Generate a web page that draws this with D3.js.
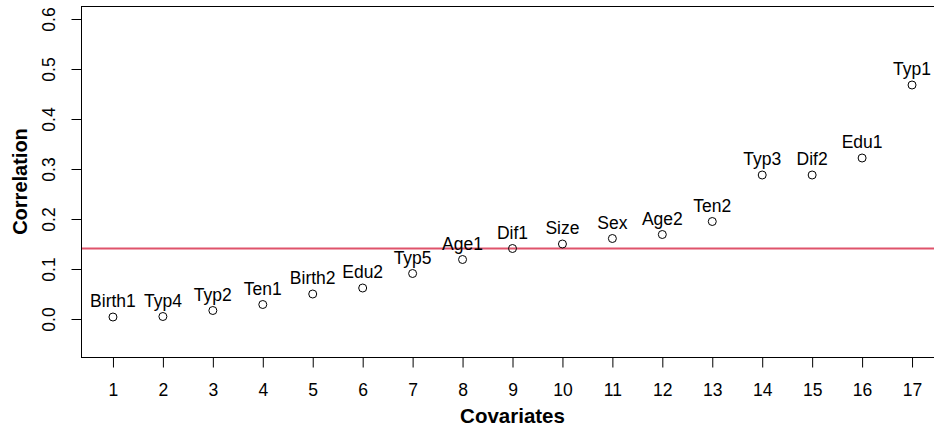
<html>
<script src="https://d3js.org/d3.v7.min.js"></script>
<style>
body {margin:0; background:#fff;}
text {font-family: "Liberation Sans", Arial, sans-serif; fill:#000;}
</style>
<body>
<svg width="934" height="430"></svg>
<script>
// covariates sorted by correlation
var names = ["Birth1","Typ4","Typ2","Ten1","Birth2","Edu2","Typ5","Age1","Dif1","Size","Sex","Age2","Ten2","Typ3","Dif2","Edu1","Typ1"];
var corr = [0.004,0.005,0.017,0.029,0.050,0.062,0.091,0.119,0.141,0.150,0.161,0.169,0.195,0.288,0.288,0.322,0.468];
var xTicks = [1,2,3,4,5,6,7,8,9,10,11,12,13,14,15,16,17];
var yTicks = [0,0.1,0.2,0.3,0.4,0.5,0.6];
var cutoff = 0.141;

var pLeft = 81, pRight = 944, pTop = 6, pBottom = 357;
var svg = d3.select("svg");

var xs = d3.scaleLinear().domain([0.36,17.64]).range([pLeft,pRight]);
var ys = d3.scaleLinear().domain([-0.076,0.626]).range([pBottom,pTop]);

// box
svg.append("rect")
   .attr("x",pLeft+0.5).attr("y",pTop+0.5)
   .attr("width",pRight-pLeft).attr("height",pBottom-pTop)
   .attr("fill","none").attr("stroke","#000").attr("stroke-width",1);

// x axis
var xa = svg.append("g").attr("transform","translate(0,"+(pBottom+0.5)+")")
   .call(d3.axisBottom(xs).tickValues(xTicks).tickFormat(d3.format("d")).tickSizeOuter(0).tickSize(10).tickPadding(16));
xa.select(".domain").remove();
xa.selectAll("text").style("font-size","17.5px").style("font-family","Liberation Sans, Arial, sans-serif").attr("fill","#000");

// y axis
var ya = svg.append("g").attr("transform","translate("+(pLeft+0.5)+",0)")
   .call(d3.axisLeft(ys).tickValues(yTicks).tickFormat(d3.format(".1f")).tickSizeOuter(0).tickSize(10));
ya.select(".domain").remove();
ya.selectAll("text")
   .style("font-size","17.5px").style("font-family","Liberation Sans, Arial, sans-serif").attr("fill","#000")
   .attr("x",null).attr("dy",null).attr("y",0)
   .attr("text-anchor","middle")
   .attr("transform","translate("+(55-pLeft-0.5)+",0) rotate(-90)");

// cutoff line
svg.append("line")
   .attr("x1",pLeft+1).attr("x2",pRight)
   .attr("y1",ys(cutoff)).attr("y2",ys(cutoff))
   .attr("stroke","#DF536B").attr("stroke-width",2);

// points
svg.append("g").selectAll("circle")
   .data(corr).enter().append("circle")
   .attr("cx",function(d,i){return xs(xTicks[i]);})
   .attr("cy",function(d){return ys(d);})
   .attr("r",4)
   .attr("fill","none").attr("stroke","#000").attr("stroke-width",1);

// point labels
svg.append("g").selectAll("text")
   .data(corr).enter().append("text")
   .attr("x",function(d,i){return xs(xTicks[i]);})
   .attr("y",function(d){return ys(d)-10;})
   .attr("text-anchor","middle")
   .style("font-size","17.5px")
   .text(function(d,i){return names[i];});

// axis titles
svg.append("text")
   .attr("x",(pLeft+pRight)/2).attr("y",423)
   .attr("text-anchor","middle")
   .style("font-size","20.5px").style("font-weight","bold")
   .text("Covariates");

svg.append("text")
   .attr("transform","translate(27,"+((pTop+pBottom)/2)+") rotate(-90)")
   .attr("text-anchor","middle")
   .style("font-size","20px").style("font-weight","bold")
   .text("Correlation");
</script>
</body>
</html>
